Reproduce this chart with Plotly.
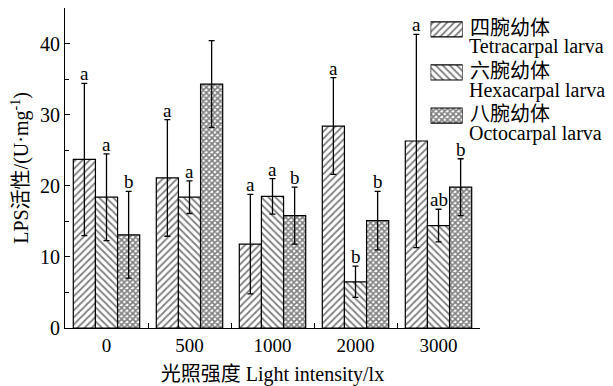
import plotly.graph_objects as go

categories = ["0", "500", "1000", "2000", "3000"]
series_cn = ["四腕幼体", "六腕幼体", "八腕幼体"]
series_en = ["Tetracarpal larva", "Hexacarpal larva", "Octocarpal larva"]
tetra = [23.7, 21.1, 11.8, 28.4, 26.3]
tetra_err = [10.7, 8.2, 7.0, 6.8, 15.0]
hexa = [18.4, 18.4, 18.5, 6.5, 14.4]
hexa_err = [6.1, 2.3, 2.5, 2.2, 2.3]
octo = [13.1, 34.3, 15.8, 15.1, 19.8]
octo_err = [6.1, 6.1, 4.0, 4.1, 4.0]
tetra_letters = ["a", "a", "a", "a", "a"]
hexa_letters = ["a", "a", "a", "b", "ab"]
octo_letters = ["b", "", "b", "b", "b"]

FONT = "Liberation Serif, Times New Roman, Noto Sans CJK SC, serif"
values = [tetra, hexa, octo]
errs = [tetra_err, hexa_err, octo_err]
letters = [tetra_letters, hexa_letters, octo_letters]
shapes = ["/", "\\", "x"]


def pattern(i):
    return dict(shape=shapes[i], fgcolor="black", bgcolor="white",
                size=5 if i < 2 else 4, solidity=0.35 if i < 2 else 0.65)


fig = go.Figure()
for i in range(3):
    fig.add_trace(go.Bar(
        x=categories, y=values[i], name=series_en[i], showlegend=False,
        marker=dict(color="white", line=dict(color="black", width=1.2), pattern=pattern(i)),
        error_y=dict(type="data", array=errs[i], color="black", thickness=1.3, width=3),
    ))

# legend swatches (drawn on an auxiliary hidden axis pair)
for i in range(3):
    fig.add_trace(go.Bar(
        x=[1], y=[i], orientation="h", width=0.35, xaxis="x2", yaxis="y2",
        showlegend=False, hoverinfo="skip",
        marker=dict(color="white", line=dict(color="black", width=1.2), pattern=pattern(i)),
    ))

annotations = []
for i in range(3):
    for j in range(len(categories)):
        if letters[i][j]:
            annotations.append(dict(x=j, y=values[i][j] + errs[i][j], text=letters[i][j],
                                    xref="x", yref="y", showarrow=False, yanchor="bottom",
                                    xshift=(i - 1) * 22, yshift=-3,
                                    font=dict(family=FONT, size=19, color="black")))

# legend texts (positions relative to the plot area: top 8px, height 320px, left 65px, width 415px)
plot_top, plot_h, plot_l, plot_w = 8, 320, 65, 415
for i in range(3):
    cy = 28 + 43 * i
    annotations.append(dict(x=(468 - plot_l) / plot_w, y=(plot_top + plot_h - cy) / plot_h,
                            xref="paper", yref="paper", text=series_cn[i], showarrow=False,
                            xanchor="left", yanchor="middle",
                            font=dict(family=FONT, size=20, color="black")))
    annotations.append(dict(x=(467 - plot_l) / plot_w, y=(plot_top + plot_h - cy - 19) / plot_h,
                            xref="paper", yref="paper", text=series_en[i], showarrow=False,
                            xanchor="left", yanchor="middle",
                            font=dict(family=FONT, size=20, color="black")))

# page body has an 8px margin, so the figure is 8px smaller and offset
fig.update_layout(
    width=605, height=378,
    margin=dict(l=57, r=133, t=0, b=58),
    paper_bgcolor="white", plot_bgcolor="white",
    barmode="group", bargap=0.2, bargroupgap=0,
    font=dict(family=FONT, size=18, color="black"),
    showlegend=False,
    annotations=annotations,
    xaxis=dict(type="category", range=[-0.5, 4.5], showline=True, linecolor="black", linewidth=1.2,
               ticks="inside", ticklen=5, tickson="boundaries", tickcolor="black",
               tickfont=dict(size=19), showgrid=False, automargin=False,
               title=dict(text="光照强度 Light intensity/lx", font=dict(size=20), standoff=12)),
    yaxis=dict(range=[0, 45], showline=True, linecolor="black", linewidth=1.2, ticks="inside",
               ticklen=5, tickcolor="black", dtick=10, showgrid=False, zeroline=False,
               tickfont=dict(size=20), automargin=False,
               minor=dict(ticks="inside", ticklen=4, dtick=5, tickcolor="black"),
               title=dict(text="LPS活性/(U·mg<sup>-1</sup>)", font=dict(size=20), standoff=8)),
    xaxis2=dict(domain=[0.881, 0.958], anchor="y2", range=[0, 1], visible=False, fixedrange=True),
    yaxis2=dict(domain=[0.631, 0.969], anchor="x2", range=[2.245, -0.267], visible=False,
                fixedrange=True),
)
fig.write_html("out.html")
